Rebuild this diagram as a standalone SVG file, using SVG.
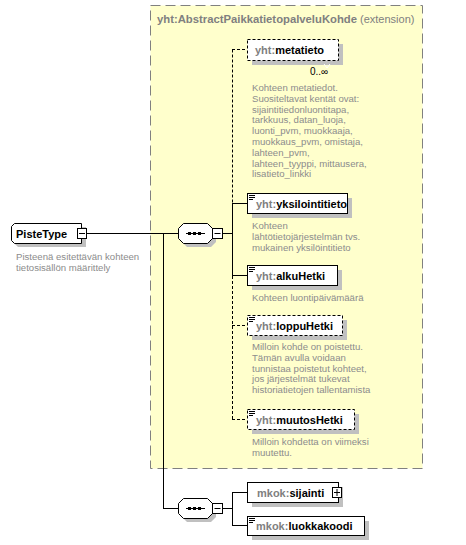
<svg xmlns="http://www.w3.org/2000/svg" width="466" height="545" viewBox="0 0 466 545">
<style>
.t{font-family:"Liberation Sans",Arial,sans-serif;font-size:11px;font-weight:bold}
.pre{fill:#808080}
.nm{fill:#000}
.d{font-family:"Liberation Sans",Arial,sans-serif;font-size:9.6px;fill:#8c8c8c}
.box{fill:#fff;stroke:#000;stroke-width:1}
.opt{stroke-dasharray:3,2}
.sh{fill:#c0c0c0}
.ln{stroke:#000;stroke-width:1;fill:none}
.dl{stroke:#000;stroke-width:1;fill:none;stroke-dasharray:3,2}
.ic{stroke:#000;stroke-width:1}
</style>
<rect width="466" height="545" fill="#fff"/>
<g id="extension">
<rect x="150.5" y="5.5" width="272" height="463" fill="#ffffcc" stroke="#808080" stroke-dasharray="10,5"/>
<text x="157" y="23" class="t" fill="#808080"><tspan textLength="200" lengthAdjust="spacingAndGlyphs">yht:AbstractPaikkatietopalveluKohde</tspan><tspan font-weight="normal" dx="3">(extension)</tspan></text>
</g>
<g id="connectors">
<line class="ln" x1="87" y1="233.5" x2="178" y2="233.5"/>
<line class="ln" x1="163.5" y1="233.5" x2="163.5" y2="508.5"/>
<line class="ln" x1="163" y1="508.5" x2="178" y2="508.5"/>
<line class="ln" x1="222" y1="233.5" x2="232" y2="233.5"/>
<line class="ln" x1="232.5" y1="203.5" x2="232.5" y2="275.5"/>
<line class="dl" x1="232.5" y1="49.5" x2="232.5" y2="203"/>
<line class="dl" x1="232.5" y1="276" x2="232.5" y2="419.5"/>
<line class="dl" x1="232" y1="49.5" x2="247" y2="49.5"/>
<line class="ln" x1="232" y1="203.5" x2="247" y2="203.5"/>
<line class="ln" x1="232" y1="275.5" x2="247" y2="275.5"/>
<line class="dl" x1="232" y1="325.5" x2="247" y2="325.5"/>
<line class="dl" x1="232" y1="419.5" x2="247" y2="419.5"/>
<line class="ln" x1="222" y1="508.5" x2="232" y2="508.5"/>
<line class="ln" x1="232.5" y1="492.5" x2="232.5" y2="525.5"/>
<line class="ln" x1="232" y1="492.5" x2="247" y2="492.5"/>
<line class="ln" x1="232" y1="525.5" x2="247" y2="525.5"/>
</g>
<g id="PisteType">
<polygon class="sh" points="18,227 86,227 86,247 18,247 15,244 15,230"/>
<polygon class="box" points="14.5,223.5 81.5,223.5 81.5,243.5 14.5,243.5 11.5,240.5 11.5,226.5"/>
<rect class="box" x="77.5" y="228.5" width="9" height="10"/>
<line class="ic" x1="79" y1="233.5" x2="85" y2="233.5"/>
<text x="16" y="237.5" class="t nm">PisteType</text>
<text class="d" x="16" y="259.5">Pisteenä esitettävän kohteen</text>
<text class="d" x="16" y="270.5">tietosisällön määrittely</text>
</g>
<g id="sequence1">
<polygon class="sh" points="187,227 211,227 216,232 216,242 211,247 187,247 182,242 182,232"/>
<polygon class="box" points="183.5,223.5 207.5,223.5 212.5,228.5 212.5,238.5 207.5,243.5 183.5,243.5 178.5,238.5 178.5,228.5"/>
<line class="ic" x1="186" y1="233.5" x2="205" y2="233.5"/>
<rect x="188" y="232" width="3" height="3"/><rect x="193" y="232" width="3" height="3"/><rect x="198" y="232" width="3" height="3"/>
<rect class="box" x="212.5" y="228.5" width="10" height="10"/>
<line class="ic" x1="214.5" y1="233.5" x2="220.5" y2="233.5"/>
</g>
<g id="metatieto">
<rect class="sh" x="252" y="44" width="91" height="21"/>
<rect class="box opt" x="247.5" y="39.5" width="91" height="21"/>
<polyline points="324,64 327,68 330,64" fill="none" stroke="#fff" stroke-width="1"/>
<text x="255" y="53.5" class="t"><tspan class="pre">yht:</tspan><tspan class="nm">metatieto</tspan></text>
<text x="310" y="75" font-family="Liberation Sans,Arial,sans-serif" font-size="10" fill="#000">0..∞</text>
<text class="d" x="252"><tspan x="252" y="91">Kohteen metatiedot.</tspan><tspan x="252" y="101.8">Suositeltavat kentät ovat:</tspan><tspan x="252" y="112.6">sijaintitiedonluontitapa,</tspan><tspan x="252" y="123.4">tarkkuus, datan_luoja,</tspan><tspan x="252" y="134.2">luonti_pvm, muokkaaja,</tspan><tspan x="252" y="145">muokkaus_pvm, omistaja,</tspan><tspan x="252" y="155.8">lahteen_pvm,</tspan><tspan x="252" y="166.6">lahteen_tyyppi, mittausera,</tspan><tspan x="252" y="177.4">lisatieto_linkki</tspan></text>
</g>
<g id="yksilointitieto">
<rect class="sh" x="252" y="198" width="100" height="20"/>
<rect class="box" x="247.5" y="193.5" width="100" height="20"/>
<path class="ic" d="M249,195.5h6M249,197.5h6M249,199.5h4"/>
<text x="256" y="207.5" class="t"><tspan class="pre">yht:</tspan><tspan class="nm">yksilointitieto</tspan></text>
<text class="d"><tspan x="252" y="229">Kohteen</tspan><tspan x="252" y="240">lähtötietojärjestelmän  tvs.</tspan><tspan x="252" y="250.8">mukainen yksilöintitieto</tspan></text>
</g>
<g id="alkuHetki">
<rect class="sh" x="252" y="270" width="90" height="20"/>
<rect class="box" x="247.5" y="265.5" width="90" height="20"/>
<path class="ic" d="M249,267.5h6M249,269.5h6M249,271.5h4"/>
<text x="256" y="279.5" class="t"><tspan class="pre">yht:</tspan><tspan class="nm">alkuHetki</tspan></text>
<text class="d" x="252" y="300.5">Kohteen luontipäivämäärä</text>
</g>
<g id="loppuHetki">
<rect class="sh" x="252" y="320" width="95" height="20"/>
<rect class="box opt" x="247.5" y="315.5" width="95" height="20"/>
<path class="ic" d="M249,317.5h6M249,319.5h6M249,321.5h4"/>
<text x="256" y="329.5" class="t"><tspan class="pre">yht:</tspan><tspan class="nm">loppuHetki</tspan></text>
<text class="d"><tspan x="252" y="350">Milloin kohde on poistettu.</tspan><tspan x="252" y="360.8">Tämän avulla voidaan</tspan><tspan x="252" y="371.6">tunnistaa poistetut kohteet,</tspan><tspan x="252" y="382.4">jos järjestelmät tukevat</tspan><tspan x="252" y="393.2">historiatietojen tallentamista</tspan></text>
</g>
<g id="muutosHetki">
<rect class="sh" x="252" y="414" width="107" height="20"/>
<rect class="box opt" x="247.5" y="409.5" width="107" height="20"/>
<path class="ic" d="M249,411.5h6M249,413.5h6M249,415.5h4"/>
<text x="256" y="423.5" class="t"><tspan class="pre">yht:</tspan><tspan class="nm">muutosHetki</tspan></text>
<text class="d"><tspan x="252" y="445">Milloin kohdetta on viimeksi</tspan><tspan x="252" y="455.8">muutettu.</tspan></text>
</g>
<g id="sequence2">
<polygon class="sh" points="187,502 211,502 216,507 216,517 211,522 187,522 182,517 182,507"/>
<polygon class="box" points="183.5,498.5 207.5,498.5 212.5,503.5 212.5,513.5 207.5,518.5 183.5,518.5 178.5,513.5 178.5,503.5"/>
<line class="ic" x1="186" y1="508.5" x2="205" y2="508.5"/>
<rect x="188" y="507" width="3" height="3"/><rect x="193" y="507" width="3" height="3"/><rect x="198" y="507" width="3" height="3"/>
<rect class="box" x="212.5" y="503.5" width="10" height="10"/>
<line class="ic" x1="214.5" y1="508.5" x2="220.5" y2="508.5"/>
</g>
<g id="sijainti">
<rect class="sh" x="252" y="487" width="91" height="20"/>
<rect class="box" x="247.5" y="482.5" width="91" height="20"/>
<rect class="box" x="332.5" y="487.5" width="9" height="10"/>
<path class="ic" d="M334,492.5h6M337,489v7"/>
<text x="257" y="496.5" class="t"><tspan class="pre">mkok:</tspan><tspan class="nm">sijainti</tspan></text>
</g>
<g id="luokkakoodi">
<rect class="sh" x="252" y="521" width="117" height="19"/>
<rect class="box" x="247.5" y="516.5" width="117" height="19"/>
<path class="ic" d="M249,518.5h6M249,520.5h6M249,522.5h4"/>
<text x="256" y="530" class="t"><tspan class="pre">mkok:</tspan><tspan class="nm">luokkakoodi</tspan></text>
</g>
</svg>
